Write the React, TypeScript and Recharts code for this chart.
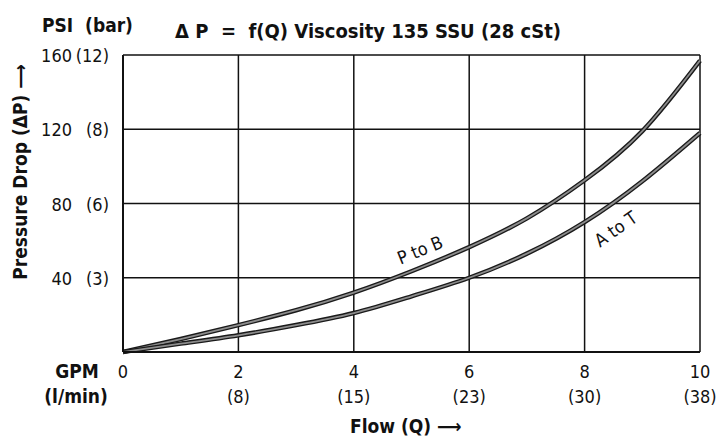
import { LineChart, Line, XAxis, YAxis, CartesianGrid, ReferenceDot, Label, Customized } from 'recharts'

const gpm = [0, 1, 2, 3, 4, 5, 6, 7, 8, 9, 10]
const pToB = [0, 7, 14.5, 22.5, 32, 43.5, 56.5, 72, 92.5, 119, 157]
const aToT = [0, 4.5, 9, 14.5, 21, 30, 40, 53, 70, 92, 118]

const xTicks = [0, 2, 4, 6, 8, 10]
const lpmLabels = ['', '(8)', '(15)', '(23)', '(30)', '(38)']
const yTicks = [0, 40, 80, 120, 160]
const barLabels = ['', '(3)', '(6)', '(8)', '(12)']

const FONT = "'Liberation Sans Narrow', 'DejaVu Sans Condensed', 'Arial Narrow', sans-serif"

const data = gpm.map((q, i) => ({ q, pToB: pToB[i], aToT: aToT[i] }))

const XTick = (props: any) => {
  const { x, y, payload, index } = props
  return (
    <g fontFamily={FONT} fontSize={18} fill="#111">
      <text x={x} y={y + 26} textAnchor="middle">{payload.value}</text>
      <text x={x} y={y + 51} textAnchor="middle">{lpmLabels[index]}</text>
    </g>
  )
}

const YTick = (props: any) => {
  const { x, y, payload, index } = props
  if (payload.value === 0) return null
  return (
    <g fontFamily={FONT} fontSize={18} fill="#111">
      <text x={x - 51} y={y + 7} textAnchor="end">{payload.value}</text>
      <text x={x - 14} y={y + 7} textAnchor="end">{barLabels[index]}</text>
    </g>
  )
}

const curveLabel = (text: string, dx: number, dy: number, angle: number) => (props: any) => {
  const vb = props.viewBox
  const cx = vb.x + vb.width / 2 + dx
  const cy = vb.y + vb.height / 2 + dy
  return (
    <text x={cx} y={cy} textAnchor="middle" dominantBaseline="middle" fontFamily={FONT} fontSize={18} fill="#111"
      transform={`rotate(${angle} ${cx} ${cy})`}>
      {text}
    </text>
  )
}

export default function App() {
  return (
    <div style={{ position: 'absolute', left: 0, top: 0, width: 720, height: 440, background: '#fff' }}>
      <LineChart width={720} height={440} data={data} margin={{ top: 55, right: 20, bottom: 0, left: 0 }}>
        <CartesianGrid stroke="#111" strokeWidth={1.5} />
        <XAxis
          dataKey="q"
          type="number"
          domain={[0, 10]}
          ticks={xTicks}
          height={88}
          tickSize={0}
          tickMargin={0}
          tickLine={false}
          axisLine={{ stroke: '#111', strokeWidth: 2 }}
          tick={<XTick />}
          interval={0}
        >
          <Label
            content={(props: any) => {
              const vb = props.viewBox
              return (
                <g fontFamily={FONT} fontWeight="bold" fontSize={19} fill="#111">
                  <text x={vb.x - 46} y={vb.y + 26} textAnchor="middle">GPM</text>
                  <text x={vb.x - 47} y={vb.y + 51} textAnchor="middle">(l/min)</text>
                  <text x={vb.x + 227} y={vb.y + 81}>Flow (Q) ⟶</text>
                </g>
              )
            }}
          />
        </XAxis>
        <YAxis
          type="number"
          domain={[0, 160]}
          ticks={yTicks}
          width={123}
          tickSize={0}
          tickMargin={0}
          tickLine={false}
          axisLine={{ stroke: '#111', strokeWidth: 2 }}
          tick={<YTick />}
          interval={0}
        >
          <Label
            content={(props: any) => {
              const vb = props.viewBox
              const cx = 21
              const cy = vb.y + 117
              return (
                <text x={cx} y={cy} textAnchor="middle" dominantBaseline="middle" fontFamily={FONT} fontWeight="bold"
                  fontSize={19} fill="#111" transform={`rotate(-90 ${cx} ${cy})`}>
                  Pressure Drop (ΔP) ⟶
                </text>
              )
            }}
          />
        </YAxis>
        <Line type="natural" dataKey="pToB" stroke="#1a1a1a" strokeWidth={4.5} dot={false} isAnimationActive={false} />
        <Line type="natural" dataKey="pToB" stroke="#8c8c8c" strokeWidth={1.8} dot={false} isAnimationActive={false} />
        <Line type="natural" dataKey="aToT" stroke="#1a1a1a" strokeWidth={4.5} dot={false} isAnimationActive={false} />
        <Line type="natural" dataKey="aToT" stroke="#8c8c8c" strokeWidth={1.8} dot={false} isAnimationActive={false} />
        <ReferenceDot x={5} y={43.5} r={1} fill="none" stroke="none" label={curveLabel('P to B', 9, -20, -22)} />
        <ReferenceDot x={8} y={70} r={1} fill="none" stroke="none" label={curveLabel('A to T', 32, 8, -35)} />
        <Customized
          component={() => (
            <g fontFamily={FONT} fontWeight="bold" fill="#111">
              <text x={42} y={32} fontSize={19} style={{ whiteSpace: 'pre' }}>PSI  (bar)</text>
              <text x={368} y={38} fontSize={20} textAnchor="middle" style={{ whiteSpace: 'pre' }}>
                Δ P  =  f(Q) Viscosity 135 SSU (28 cSt)
              </text>
            </g>
          )}
        />
      </LineChart>
    </div>
  )
}
